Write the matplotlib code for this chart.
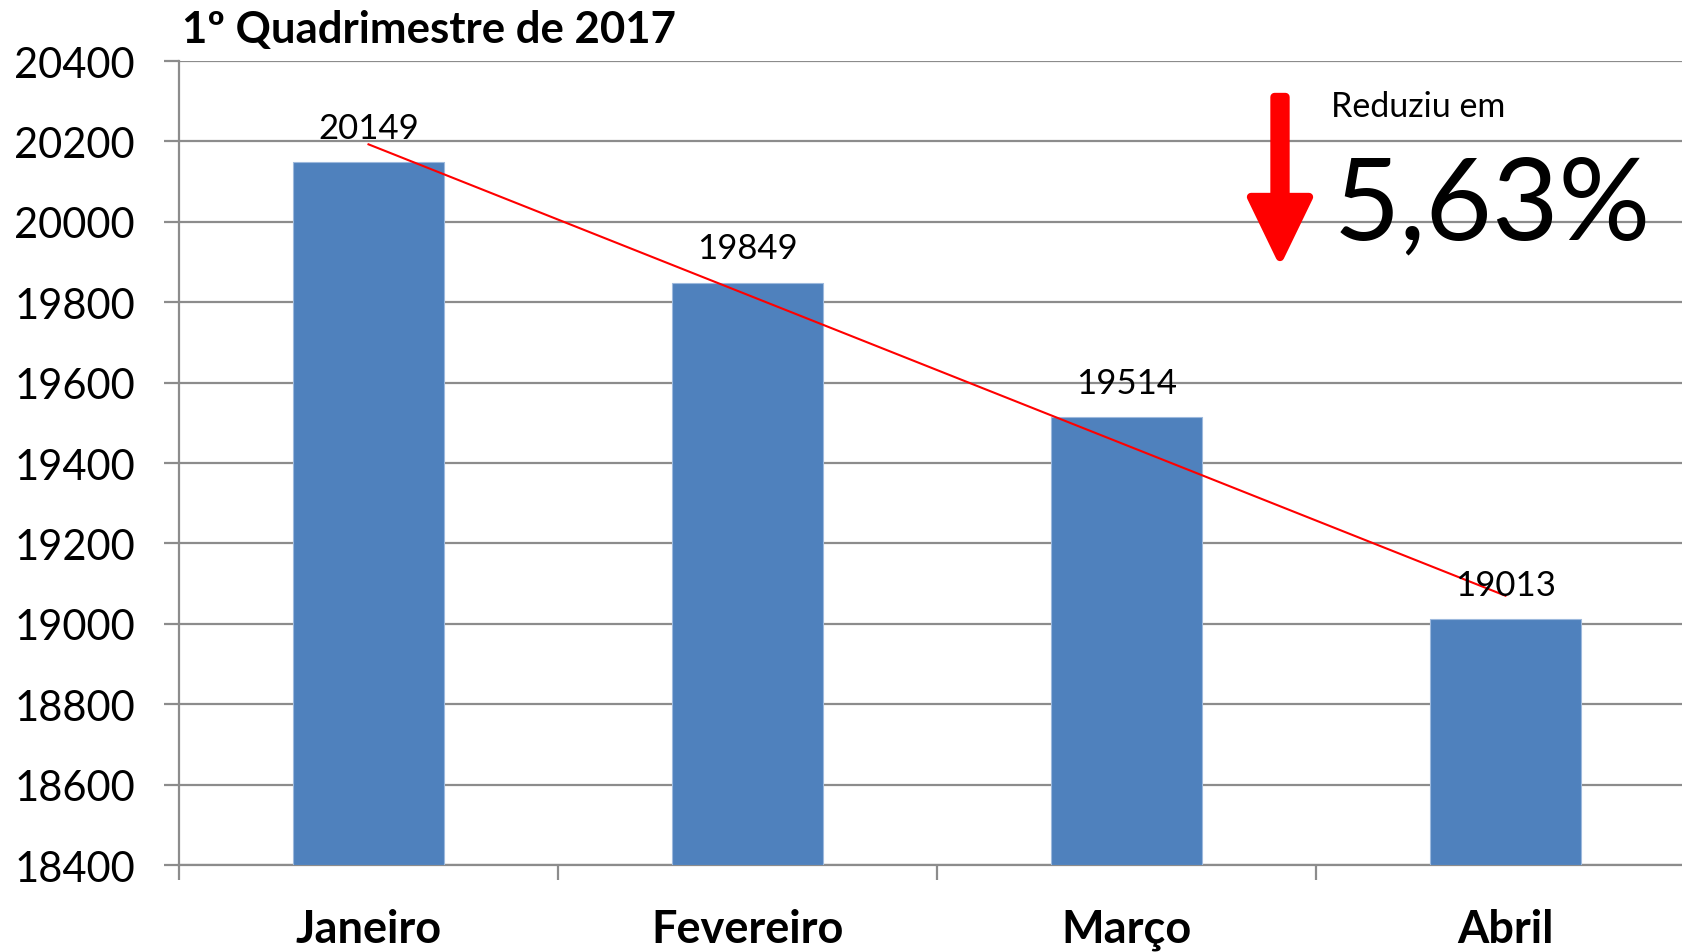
import numpy as np
import matplotlib
matplotlib.use("Agg")
import matplotlib.pyplot as plt
from matplotlib.patches import FancyArrow

plt.rcParams['font.family'] = ['Lato', 'DejaVu Sans']

categories = ["Janeiro", "Fevereiro", "Março", "Abril"]
values = [20149, 19849, 19514, 19013]
yticks = [18400, 18600, 18800, 19000, 19200, 19400, 19600, 19800, 20000, 20200, 20400]
title = "1º Quadrimestre de 2017"
note_small = "Reduziu em"
note_big = "5,63%"

W, H, DPI = 1683, 953, 100
fig = plt.figure(figsize=(W / DPI, H / DPI), dpi=DPI)
fig.patch.set_facecolor("white")

left, right, top, bottom = 179, 1695, 62, 866
ax = fig.add_axes([left / W, (H - bottom) / H, (right - left) / W, (bottom - top) / H])

x = np.arange(len(categories))
bar_color = "#4F81BD"
ax.bar(x, np.array(values) - yticks[0], bottom=yticks[0], width=0.4,
       color=bar_color, edgecolor="#9DB9DD", linewidth=0.8, zorder=3)

# linear trend line
coef = np.polyfit(x, values, 1)
ax.plot(x, np.polyval(coef, x), color="#FF0000", linewidth=1.5, zorder=5)

for xi, v in zip(x, values):
    ax.annotate(str(v), (xi, v), xytext=(0, 24.5), textcoords="offset points",
                ha="center", va="center", fontsize=25, color="black", zorder=6)

ax.set_xlim(-0.5, len(categories) - 0.5)
ax.set_ylim(yticks[0], yticks[-1])
ax.set_yticks(yticks)
ax.set_yticklabels([str(t) for t in yticks], fontsize=30)
ax.set_xticks(x)
ax.set_xticklabels(categories, fontsize=32.5, fontweight="bold")
ax.set_xticks(np.arange(len(categories)) - 0.5, minor=True)

grid_c = "#8C8C8C"
ax.yaxis.grid(True, color=grid_c, linewidth=1.6, zorder=0)
ax.set_axisbelow(True)
for s in ["top", "right"]:
    ax.spines[s].set_visible(False)
ax.spines["left"].set_color(grid_c)
ax.spines["left"].set_linewidth(1.6)
ax.spines["bottom"].set_color(grid_c)
ax.spines["bottom"].set_linewidth(1.6)
ax.tick_params(axis="y", length=10.8, width=1.6, color=grid_c, pad=21)
ax.tick_params(axis="x", which="major", length=0, pad=31)
ax.tick_params(axis="x", which="minor", length=10.8, width=1.6, color=grid_c)

fig.text(182 / W, 1 - 30 / H, title, fontsize=31.5, fontweight="bold",
         ha="left", va="center")

fig.text(1331 / W, 1 - 107 / H, note_small, fontsize=24.5, ha="left", va="center")
fig.text(1334 / W, 1 - 207 / H, note_big, fontsize=82.5, ha="left", va="center")

arrow = FancyArrow(12.80, (H - 98) / DPI, 0, -160 / DPI,
                   width=0.11, head_width=0.58, head_length=0.60,
                   length_includes_head=True, color="#FF0000",
                   linewidth=6, joinstyle="round",
                   transform=fig.dpi_scale_trans)
fig.patches.append(arrow)

fig.savefig("out.png", dpi=DPI)
